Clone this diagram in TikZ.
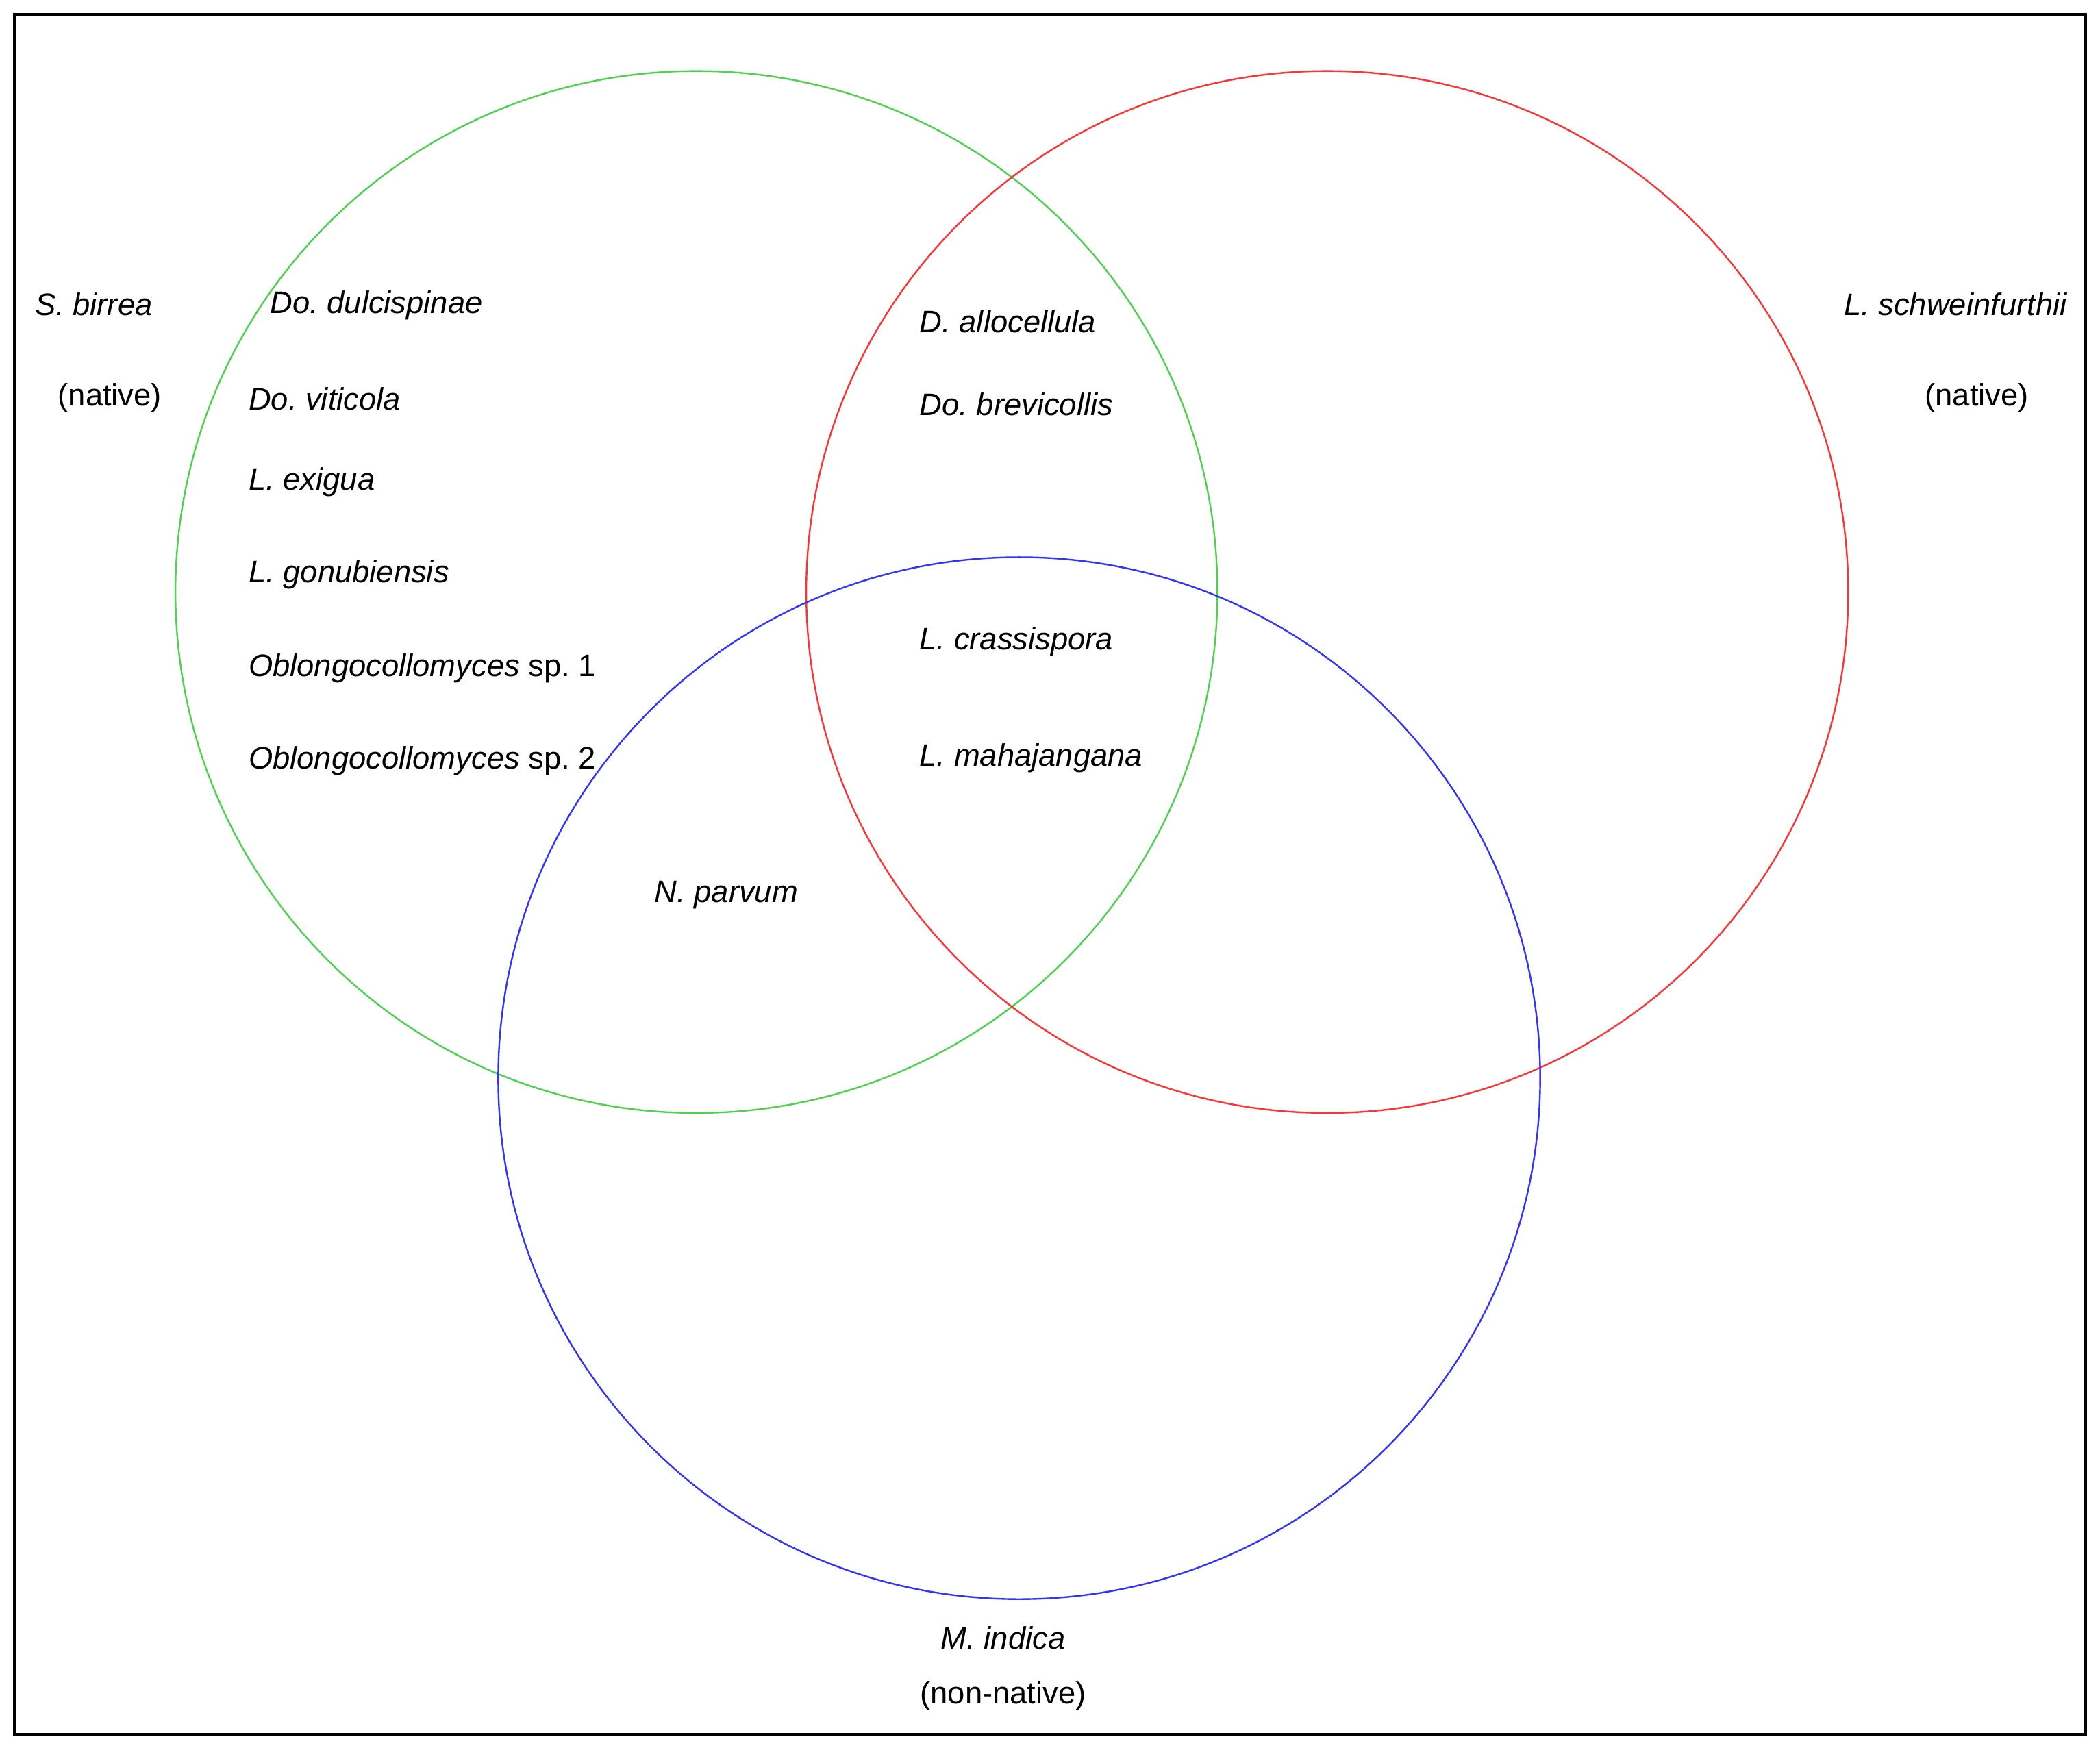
\documentclass[tikz,border=0pt]{standalone}
\usepackage{fontspec}
\setmainfont{Liberation Sans}
\frenchspacing
\begin{document}
\begin{tikzpicture}[x=0.01cm,y=-0.01cm,
  circ/.style={line width=0.35pt},
  lab/.style={anchor=west,inner sep=0pt,font=\fontsize{6.6}{7.5}\selectfont\itshape},
  clab/.style={inner sep=0pt,font=\fontsize{6.6}{7.5}\selectfont}]
\useasboundingbox (0,0) rectangle (1568,1305);
\draw[line width=0.6pt] (11,11) rectangle (1557,1295);
\draw[circ,green!75!black!70!white] (520,442) circle (389);
\draw[circ,red!80!white] (991,442) circle (389);
\draw[circ,blue!80!white] (761,805) circle (389);
\node[clab] (sb) at (70,227) {\itshape S. birrea};
\node[clab] (sbn) at (82,297) {(native)};
\node[clab] (ls) at (1460,227) {\itshape L. schweinfurthii};
\node[clab] (lsn) at (1476,297) {(native)};
\node[clab] (mi) at (749,1223) {\itshape M. indica};
\node[clab] (min) at (749,1266) {(non-native)};
\node[lab] (a1) at (201,228) {Do. dulcispinae};
\node[lab] (a2) at (185,298) {Do. viticola};
\node[lab] (a3) at (185,360) {L. exigua};
\node[lab] (a4) at (185,429) {L. gonubiensis};
\node[lab] (a5) at (185,499) {Oblongocollomyces\upshape\ sp. 1};
\node[lab] (a6) at (185,568) {Oblongocollomyces\upshape\ sp. 2};
\node[lab] (b1) at (686,240) {D. allocellula};
\node[lab] (b2) at (686,302) {Do. brevicollis};
\node[lab] (c1) at (686,479) {L. crassispora};
\node[lab] (c2) at (686,566) {L. mahajangana};
\node[lab] (d1) at (488,668) {N. parvum};
\end{tikzpicture}
\end{document}
